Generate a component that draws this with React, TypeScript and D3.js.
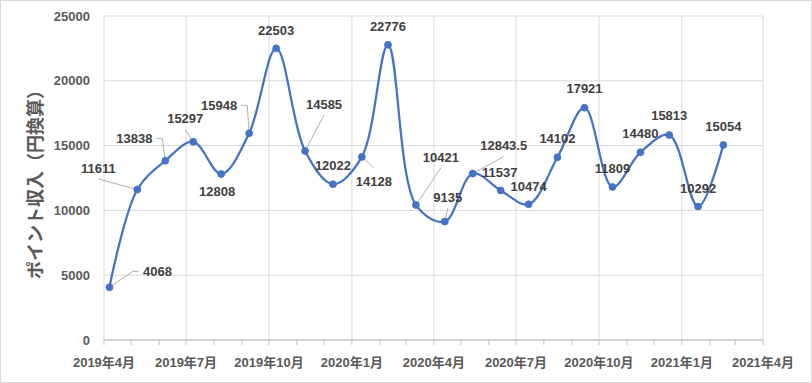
import React from "react";
import * as d3 from "d3";

const dates = [
  "2019-04-07", "2019-05-08", "2019-06-08", "2019-07-09", "2019-08-09", "2019-09-09",
  "2019-10-09", "2019-11-10", "2019-12-11", "2020-01-12", "2020-02-10", "2020-03-12",
  "2020-04-13", "2020-05-14", "2020-06-14", "2020-07-15", "2020-08-16", "2020-09-15",
  "2020-10-16", "2020-11-16", "2020-12-18", "2021-01-19", "2021-02-16",
];
const values = [
  4068, 11611, 13838, 15297, 12808, 15948, 22503, 14585, 12022, 14128, 22776, 10421,
  9135, 12843.5, 11537, 10474, 14102, 17921, 11809, 14480, 15813, 10292, 15054,
];
const yTicks = [0, 5000, 10000, 15000, 20000, 25000];
const yTitle = "ポイント収入（円換算）";

// label placement (offset of label centre from its point) and leader attach side
const labelDx = [48, -39, -31, -8, -4, -30, 0, 19, 0, 12, 0, 25, 3, 31, -1, 0, 0, 0, 0, 0, 0, 0, 0];
const labelDy = [-16, -21.5, -22, -23, 17, -28, -18, -47, -19, 24, -18.6, -48, -24, -28, -18.5, -17.6, -18.5, -19, -19, -18.6, -19.5, -18.6, -18.7];
const leaderSide = ["L", "B", "R", "B", "", "R", "", "B", "", "T", "", "B", "B", "B", "", "", "", "", "", "", "", "", ""];

const W = 812;
const H = 383;
const left = 104;
const right = 763;
const top = 16;
const bottom = 340;

const FONT = "'Liberation Sans', Arial, 'Noto Sans CJK JP', sans-serif";

export default function App() {
  const parse = d3.timeParse("%Y-%m-%d");
  const data = dates.map((d, i) => ({ date: parse(d) as Date, value: values[i] }));
  const x = d3.scaleTime().domain([new Date(2019, 3, 1), new Date(2021, 3, 1)]).range([left, right]);
  const y = d3.scaleLinear().domain([0, 25000]).range([bottom, top]);
  const majors = d3.timeMonth.every(3)!.range(new Date(2019, 3, 1), new Date(2021, 3, 2));
  const minors = d3.timeMonth.every(1)!.range(new Date(2019, 3, 1), new Date(2021, 3, 2));
  const line = d3
    .line<{ date: Date; value: number }>()
    .x((d) => x(d.date))
    .y((d) => y(d.value))
    .curve(d3.curveCatmullRom.alpha(0.5));

  const textW = (s: string) => {
    let w = 0;
    for (const c of s) w += c === "." ? 3.6 : 7.25;
    return w;
  };

  return (
    <svg width={W} height={H} style={{ position: "absolute", left: 0, top: 0, background: "#fff" }} fontFamily={FONT}>
      <rect x={0.5} y={0.5} width={W - 1} height={H - 1} fill="#fff" stroke="#D9D9D9" />
      {yTicks.map((t) => (
        <line key={"h" + t} x1={left} x2={right} y1={y(t)} y2={y(t)} stroke="#D9D9D9" strokeWidth={1} />
      ))}
      {majors.map((m) => (
        <line key={"v" + m.getTime()} x1={x(m)} x2={x(m)} y1={top} y2={bottom} stroke="#D9D9D9" strokeWidth={1} />
      ))}
      <line x1={left} x2={right} y1={bottom} y2={bottom} stroke="#BFBFBF" strokeWidth={1} />
      {minors.map((m) => (
        <line key={"t" + m.getTime()} x1={x(m)} x2={x(m)} y1={bottom} y2={bottom + 5} stroke="#BFBFBF" strokeWidth={1} />
      ))}
      {yTicks.map((t) => (
        <text key={"yl" + t} x={90} y={y(t) + 4.5} textAnchor="end" fontSize={13} fontWeight="bold" fill="#595959">
          {t}
        </text>
      ))}
      {majors.map((m) => (
        <text key={"xl" + m.getTime()} x={x(m)} y={367} textAnchor="middle" fontSize={13} fontWeight="bold" fill="#595959">
          {`${m.getFullYear()}年${m.getMonth() + 1}月`}
        </text>
      ))}
      <text
        transform={`translate(34,180) rotate(-90)`}
        textAnchor="middle"
        dominantBaseline="central"
        fontSize={18}
        fontWeight="bold"
        fill="#595959"
        fontFamily="'Noto Sans CJK JP', sans-serif"
      >
        {yTitle}
      </text>
      {data.map((d, i) => {
        const side = leaderSide[i];
        if (!side) return null;
        const px = x(d.date);
        const py = y(d.value);
        const cx = px + labelDx[i];
        const cy = py + labelDy[i];
        const w = textW(String(d.value));
        let pts: [number, number][] = [];
        if (side === "L") pts = [[cx - w / 2 - 4, cy], [cx - w / 2 - 10, cy], [px, py]];
        else if (side === "R") pts = [[cx + w / 2 + 4, cy], [cx + w / 2 + 10, cy], [px, py]];
        else if (side === "B") pts = [[cx, cy + 11], [px, py]];
        else pts = [[cx, cy - 13], [px, py]];
        return <polyline key={"ld" + i} points={pts.map((p) => p.join(",")).join(" ")} fill="none" stroke="#A6A6A6" strokeWidth={0.9} />;
      })}
      <path d={line(data) || ""} fill="none" stroke="#4472C4" strokeWidth={2.25} strokeLinejoin="round" />
      {data.map((d, i) => (
        <circle key={"c" + i} cx={x(d.date)} cy={y(d.value)} r={3.5} fill="#4472C4" stroke="#4472C4" strokeWidth={0.75} />
      ))}
      {data.map((d, i) => (
        <text
          key={"dl" + i}
          x={x(d.date) + labelDx[i]}
          y={y(d.value) + labelDy[i] + 4.6}
          textAnchor="middle"
          fontSize={13}
          fontWeight="bold"
          fill="#404040"
        >
          {String(d.value)}
        </text>
      ))}
    </svg>
  );
}
